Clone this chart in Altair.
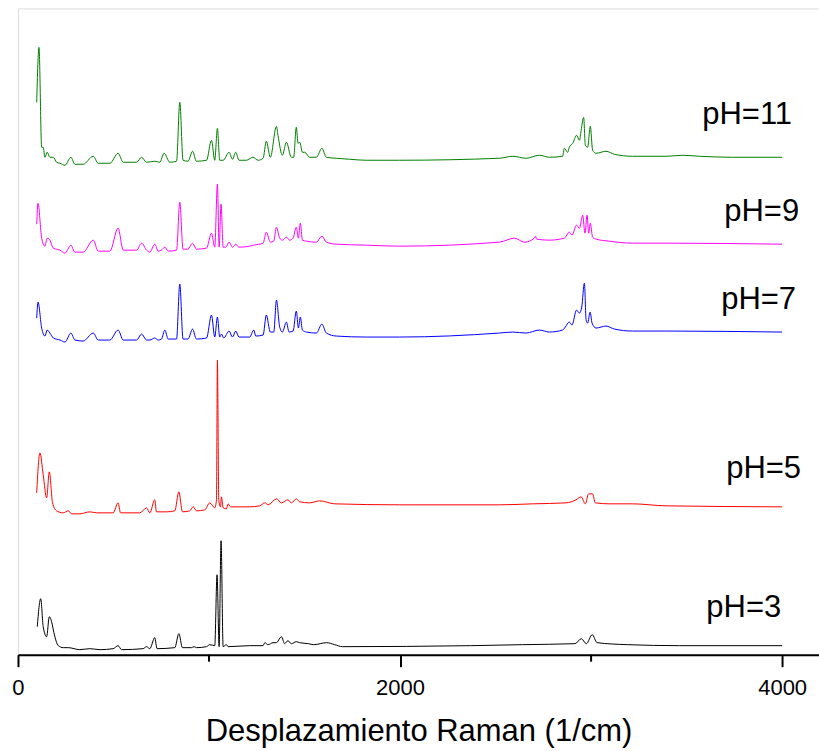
import altair as alt
import pandas as pd

# ---- data (wavenumber in 1/cm, stacked intensity in arbitrary units) ----
wn_ph11 = [98,110,124,132,141,153,167,185,202,220,246,277,298,341,394,420,481,524,551,621,647,673,716,742,765,795,830,847,864,890,914,934,987,1013,1030,1044,1056,1074,1105,1123,1140,1157,1196,1230,1257,1283,1300,1321,1353,1361,1384,1405,1431,1443,1457,1466,1475,1489,1501,1527,1562,1591,1614,1666,1736,1823,1997,2520,2590,2660,2729,2782,2851,2860,2877,2886,2904,2924,2939,2948,2961,2970,2982,2996,3008,3026,3078,3122,3217,3392,3479,3566,3740,4000]
in_ph11 = [553,608,508,508,498,503,498,498,493,492,490,498,491,491,499,492,492,502,493,493,498,493,494,493,502,493,494,553,495,494,504,494,495,515,495,527,495,495,503,496,503,495,495,498,495,497,514,498,529,520,500,513,498,498,528,512,513,503,503,498,498,507,498,497,496,495,495,497,499,497,500,498,499,507,503,508,512,520,515,525,538,510,508,529,505,502,504,501,499,499,500,499,498,498]

wn_ph9 = [98,105,124,141,153,167,185,220,246,277,298,341,394,420,481,524,551,621,647,673,690,716,734,751,769,786,830,847,864,890,914,934,987,1013,1030,1044,1053,1063,1074,1088,1105,1123,1140,1157,1213,1234,1283,1300,1321,1339,1353,1370,1384,1405,1422,1440,1457,1468,1478,1489,1510,1562,1591,1614,1666,1823,1997,2520,2599,2651,2703,2709,2715,2782,2860,2886,2900,2924,2939,2956,2968,2979,2987,2996,3008,3026,3095,3217,3392,4000]
in_ph9 = [431,452,417,409,417,415,407,405,402,410,403,403,415,404,404,427,405,405,412,405,403,411,404,405,408,404,405,453,406,406,412,406,407,422,408,471,408,451,408,408,413,408,411,408,409,410,412,423,413,414,428,417,415,418,415,417,428,417,432,415,414,413,419,413,411,410,409,413,417,413,417,419,416,415,417,423,420,430,427,440,422,440,422,432,418,416,414,412,412,411]

wn_ph7 = [98,105,124,141,153,167,185,220,246,277,298,341,394,420,481,524,551,621,647,673,690,716,734,751,769,786,830,847,864,890,914,934,987,1013,1030,1044,1056,1065,1077,1105,1123,1140,1157,1213,1234,1245,1283,1300,1321,1339,1353,1370,1384,1405,1419,1440,1457,1468,1478,1489,1510,1562,1591,1614,1666,1823,1997,2520,2590,2660,2729,2782,2851,2865,2886,2900,2924,2939,2951,2965,2974,2982,2995,3005,3026,3078,3122,3217,3392,4000]
in_ph7 = [337,353,327,319,325,322,317,315,313,322,315,314,322,315,315,325,315,315,321,315,315,317,315,316,325,316,316,371,316,316,326,316,317,340,318,338,318,321,317,324,318,324,318,318,325,319,320,340,323,323,355,328,323,333,323,324,344,327,338,325,323,322,331,322,319,318,318,322,323,322,325,323,325,328,333,330,345,342,348,372,335,332,343,332,327,329,326,324,324,323]

wn_ph5 = [98,115,132,150,164,181,202,237,263,281,324,376,412,498,524,537,638,673,690,716,725,778,821,842,861,899,917,934,978,1004,1030,1039,1044,1051,1060,1065,1074,1091,1100,1112,1213,1265,1292,1309,1353,1379,1413,1431,1457,1475,1527,1579,1658,1997,2520,2694,2869,2921,2948,2970,2987,3008,3022,3095,3217,3392,4000]
in_ph5 = [162,202,180,157,183,152,144,142,144,141,141,143,142,142,152,142,142,147,142,155,143,143,144,163,143,144,148,144,145,152,147,155,295,155,148,158,147,146,151,148,148,149,152,150,156,152,155,152,156,153,152,154,151,150,150,151,152,155,158,151,161,161,152,151,151,149,148]

wn_ph3 = [101,119,132,150,164,176,188,211,237,263,324,376,429,498,524,542,655,673,690,716,728,821,842,861,908,922,934,987,1004,1030,1042,1053,1063,1074,1091,1100,1213,1283,1292,1309,1335,1353,1379,1396,1413,1431,1457,1475,1520,1548,1616,1658,1698,2369,2641,2916,2949,2975,3006,3031,3190,3462,4000]
in_ph3 = [28,56,28,18,38,33,22,9,7,7,5,6,5,6,9,5,6,8,6,17,6,7,21,7,7,8,7,8,10,9,80,8,114,8,10,8,9,9,12,10,12,12,18,11,14,11,13,12,11,10,12,10,8,9,10,11,16,11,20,12,10,9,9]

series_names = ["pH=11", "pH=9", "pH=7", "pH=5", "pH=3"]
series_colors = ["#008000", "#ff00ff", "#0000ff", "#ff0000", "#000000"]
label_x = [4052, 4089, 4073, 4099, 3995]
label_y = [540, 443, 355, 186, 47]
tick_major = [0, 2000, 4000]
tick_minor = [1000, 3000]

rows = []
for name, wn, inten in zip(series_names,
                           [wn_ph11, wn_ph9, wn_ph7, wn_ph5, wn_ph3],
                           [in_ph11, in_ph9, in_ph7, in_ph5, in_ph3]):
    for i, (a, b) in enumerate(zip(wn, inten)):
        rows.append({"serie": name, "wn": a, "I": b, "idx": i})
df = pd.DataFrame(rows)
labels = pd.DataFrame({"serie": series_names, "x": label_x, "y": label_y})
minor = pd.DataFrame({"x": tick_minor})

FONT = "Liberation Sans"
xscale = alt.Scale(domain=[0, 4193], nice=False, zero=False)
yscale = alt.Scale(domain=[0, 647], nice=False, zero=False)

lines = alt.Chart(df).mark_line(strokeWidth=1, clip=True, interpolate="monotone").encode(
    x=alt.X("wn:Q", scale=xscale,
            axis=alt.Axis(values=tick_major, format="d", tickSize=12, tickWidth=2, tickColor="black",
                          domainColor="black", domainWidth=2, grid=False,
                          labelFont=FONT, labelFontSize=22, labelColor="black",
                          labelPadding=11, labelFlush=False,
                          title="Desplazamiento Raman (1/cm)", titleFont=FONT,
                          titleFontSize=31, titleFontWeight="normal", titleColor="black",
                          titlePadding=18)),
    y=alt.Y("I:Q", scale=yscale, axis=None),
    color=alt.Color("serie:N", scale=alt.Scale(domain=series_names, range=series_colors), legend=None),
    order="idx:Q",
)

text = alt.Chart(labels).mark_text(align="right", baseline="middle", font=FONT,
                                   fontSize=31, color="black").encode(
    x=alt.X("x:Q", scale=xscale),
    y=alt.Y("y:Q", scale=yscale),
    text="serie:N",
)

minor_ticks = alt.Chart(minor).mark_rule(strokeWidth=2, color="black").encode(
    x=alt.X("x:Q", scale=xscale),
    y=alt.value(647),
    y2=alt.value(654),
)

chart = alt.layer(lines, text, minor_ticks).properties(
    width=802, height=647,
    padding={"left": 18, "top": 8, "right": 0, "bottom": 96},
    autosize=alt.AutoSizeParams(type="none"),
).configure_view(stroke="#666666", strokeWidth=1).configure(background="white")

chart.save("out.html", embed_options={"renderer": "svg", "actions": False})
